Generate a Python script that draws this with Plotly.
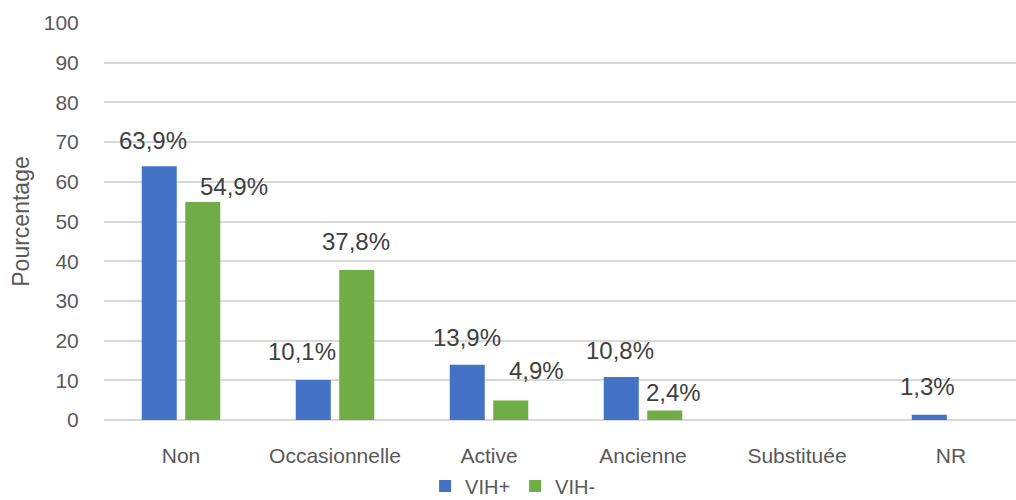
import plotly.graph_objects as go

# Tobacco use status by HIV serostatus (%)
categories = ["Non", "Occasionnelle", "Active", "Ancienne", "Substituée", "NR"]
vih_pos = [63.9, 10.1, 13.9, 10.8, None, 1.3]
vih_neg = [54.9, 37.8, 4.9, 2.4, None, None]
series_names = ["VIH+", "VIH-"]
y_ticks = [0, 10, 20, 30, 40, 50, 60, 70, 80, 90, 100]

# Label placement (pixel offsets from category centre / bar top)
label_offsets_pos = [(-28, 26), (-33, 28), (-22, 27), (-23, 27), None, (-24, 28)]
label_offsets_neg = [(53, 16), (21, 28), (47, 30), (30, 18), None, None]

BLUE = "#4472C4"
GREEN = "#70AD47"
TEXT = "#595959"
GRID = "#D9D9D9"
FONT = "Liberation Sans, Arial, sans-serif"

fig = go.Figure()
fig.add_trace(go.Bar(x=categories, y=vih_pos, name=series_names[0],
                     marker=dict(color=BLUE, line=dict(width=0))))
fig.add_trace(go.Bar(x=categories, y=vih_neg, name=series_names[1],
                     marker=dict(color=GREEN, line=dict(width=0))))


def fmt(v):
    return f"{v:.1f}".replace(".", ",") + "%"


annotations = []
for values, offsets in ((vih_pos, label_offsets_pos), (vih_neg, label_offsets_neg)):
    for cat, v, off in zip(categories, values, offsets):
        if v is None or off is None:
            continue
        annotations.append(dict(
            x=cat, y=v, xref="x", yref="y", text=fmt(v), showarrow=False,
            xshift=off[0], yshift=off[1], xanchor="center", yanchor="middle",
            font=dict(family=FONT, size=24, color="#404040"),
        ))

fig.update_layout(
    width=1016, height=500,
    margin=dict(l=104, r=0, t=23, b=80, autoexpand=False),
    paper_bgcolor="white", plot_bgcolor="white",
    barmode="group", bargap=0.435, bargroupgap=0.195,
    font=dict(family=FONT, size=21, color=TEXT),
    showlegend=True,
    legend=dict(orientation="h", xref="container", x=0.505, xanchor="center",
                yref="container", y=0.028, yanchor="middle",
                font=dict(size=20, color=TEXT), itemwidth=30,
                traceorder="normal"),
    annotations=annotations,
)
fig.update_xaxes(
    type="category", range=[-0.5, 5.422], showgrid=False, showline=False,
    zeroline=False, ticks="outside", ticklen=17, tickcolor="rgba(0,0,0,0)",
    tickfont=dict(family=FONT, size=21, color=TEXT), automargin=False,
)
fig.update_yaxes(
    range=[0, 100], tickvals=y_ticks, showgrid=True, gridcolor=GRID, gridwidth=1.5,
    zeroline=True, zerolinecolor=GRID, zerolinewidth=1.5, showline=False,
    ticks="outside", ticklen=20, tickcolor="rgba(0,0,0,0)",
    tickfont=dict(family=FONT, size=21, color=TEXT), automargin=False,
    title=dict(text="Pourcentage", standoff=7,
               font=dict(family=FONT, size=23, color=TEXT)),
)

fig.write_html("out.html")
